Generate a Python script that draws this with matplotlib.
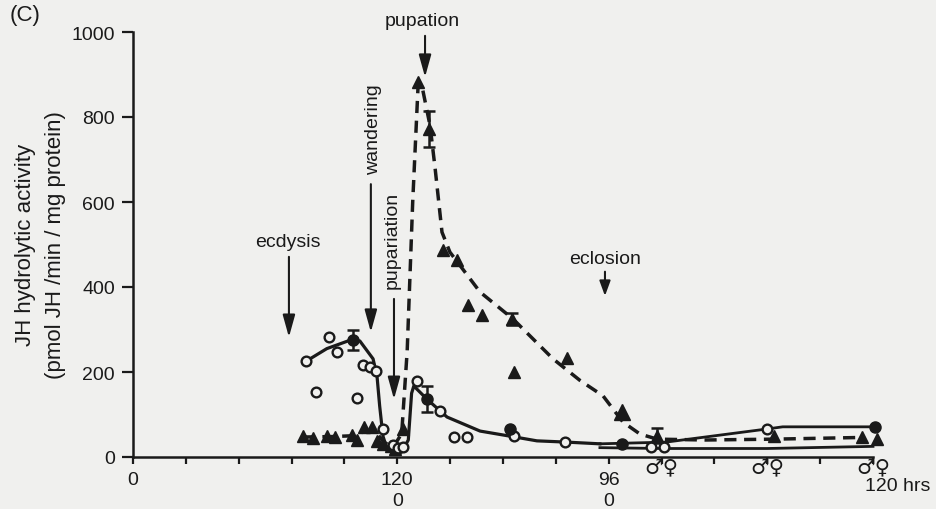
import numpy as np
import matplotlib
matplotlib.use("Agg")
import matplotlib.pyplot as plt

plt.rcParams['font.family'] = ['Liberation Sans', 'DejaVu Sans']

# time axis in hours: larva 0-120, pupa 120-216 (0-96), adult 216-336 (0-120)
# open circles (individual assays)
circ_t = [78.6, 83, 89, 92.6, 101.7, 104.5, 107.6, 110.4, 113.5, 118, 120.5, 122.5,
          129, 139.4, 145.8, 151.7, 173, 196, 235, 241, 288]
circ_y = [226, 153, 282, 247, 139, 216, 211, 202, 66, 28, 22, 24,
          179, 108, 47, 47, 50, 35, 24, 24, 66]

# filled circles (means) with error bars
mean_t = [100, 133.5, 171, 222, 337]
mean_y = [276, 136, 66, 30, 71]
mean_err = [24, 30, 0, 0, 0]

# solid curve through circles
solid_t = [78.6, 80.4, 88, 97.6, 103, 109, 110.8, 112, 113.5, 115, 118, 122, 125, 126.5,
           127.5, 133.5, 142.6, 157.6, 171.2, 183.4, 197, 212]
solid_y = [226, 231, 255, 273, 273, 231, 190, 120, 49, 25, 15, 12, 40, 150,
           167, 136, 94, 61, 49, 38, 35, 31]
adult_hi_t = [212, 242, 288, 295, 337]
adult_hi_y = [31, 35, 66, 71, 71]
adult_lo_t = [212, 240, 288, 336]
adult_lo_y = [22, 20, 20, 25]

# triangles (individual)
tri_t = [77.2, 81.7, 88.1, 91.7, 99.5, 101.7, 105, 108.5, 111, 113.5, 117, 119, 122.6,
         129.5, 140.8, 147, 152, 158.5, 173, 197, 291, 331, 338]
tri_y = [49, 45, 49, 47, 52, 40, 70, 70, 38, 30, 25, 20, 66,
         882, 487, 464, 357, 334, 200, 233, 49, 47, 42]
big_tri_t = [222]
big_tri_y = [105]
# triangle means with error bars
tm_t = [134.5, 172, 238]
tm_y = [772, 325, 50]
tm_err = [42, 15, 18]

# dashed curve through triangles
dash_t = [77, 90, 100, 106, 110, 114, 118, 122, 124.5, 127, 129.5, 131.2, 134.9, 137.2,
          140.3, 143.9, 157.6, 172.5, 190.7, 203, 213.4, 222.5, 230.2, 238, 260, 291, 331]
dash_y = [47, 48, 50, 62, 60, 35, 22, 55, 250, 600, 880, 873, 779, 678,
          529, 482, 388, 325, 231, 180, 144, 82, 54, 42, 40, 42, 46]

ink = '#1a1a1a'
bg = '#f0f0ee'

fig = plt.figure(figsize=(9.36, 5.1), dpi=100, facecolor=bg)
ax = fig.add_axes([133/936, 52/510, 740/936, 425/510])
ax.set_facecolor(bg)

ax.plot(solid_t, solid_y, '-', color=ink, lw=2.3, clip_on=False)
ax.plot(adult_hi_t, adult_hi_y, '-', color=ink, lw=2.0, clip_on=False)
ax.plot(adult_lo_t, adult_lo_y, '-', color=ink, lw=2.0, clip_on=False)
ax.plot(dash_t, dash_y, '--', color=ink, lw=2.5, dashes=(3.5, 2.2), clip_on=False)

ax.plot(tri_t, tri_y, '^', color=ink, ms=9, mec=ink, clip_on=False)
ax.plot(big_tri_t, big_tri_y, '^', color=ink, ms=12, mec=ink, clip_on=False)
ax.errorbar(tm_t, tm_y, yerr=tm_err, fmt='^', color=ink, ms=9, capsize=4,
            elinewidth=1.8, capthick=1.8, clip_on=False)

ax.plot(circ_t, circ_y, 'o', mfc=bg, mec=ink, mew=1.7, ms=7, clip_on=False)
e_t = [t for t, e in zip(mean_t, mean_err) if e > 0]
e_y = [y for y, e in zip(mean_y, mean_err) if e > 0]
e_e = [e for e in mean_err if e > 0]
ax.errorbar(e_t, e_y, yerr=e_e, fmt='none', ecolor=ink, capsize=4,
            elinewidth=1.8, capthick=1.8, clip_on=False)
ax.plot(mean_t, mean_y, 'o', color=ink, ms=8, clip_on=False)

ax.set_xlim(0, 336)
ax.set_ylim(0, 1000)
for s in ['top', 'right']:
    ax.spines[s].set_visible(False)
for s in ['left', 'bottom']:
    ax.spines[s].set_linewidth(1.8)
    ax.spines[s].set_color(ink)

ax.set_yticks([0, 200, 400, 600, 800, 1000])
ax.tick_params(axis='y', length=8, width=1.6, pad=5, labelsize=14, colors=ink)
ax.set_xticks(np.arange(0, 337, 24))
xlabels = ['' for _ in range(15)]
xlabels[0] = '0'
xlabels[5] = '120\n0'
xlabels[9] = '96\n0'
ax.set_xticklabels(xlabels, linespacing=1.35)
ax.tick_params(axis='x', length=5, width=1.6, pad=5, labelsize=14, colors=ink)
ax.text(336 - 3.5, -66, '120 hrs', ha='left', va='center', fontsize=14, color=ink,
        clip_on=False)
for t in [240, 288, 336]:
    ax.text(t, -22, '♂♀', ha='center', va='center', fontsize=15,
            family=['DejaVu Sans'], color=ink, clip_on=False)

fig.text(26/936, 1 - 245/510, 'JH hydrolytic activity', rotation=90, ha='center',
         va='center', fontsize=16, color=ink)
fig.text(56/936, 1 - 245/510, '(pmol JH /min / mg protein)', rotation=90, ha='center',
         va='center', fontsize=16, color=ink)
fig.text(25/936, 1 - 16/510, '(C)', ha='center', va='center', fontsize=16, color=ink)

arrow = dict(arrowstyle='-|>,head_length=0.9,head_width=0.25', lw=1.5, color=ink,
             shrinkA=0, shrinkB=0, mutation_scale=15)
short_arrow = dict(arrowstyle='-|>,head_length=0.6,head_width=0.22', lw=1.5, color=ink,
                   shrinkA=0, shrinkB=0, mutation_scale=15)
# event labels
ax.text(131.2, 1026, 'pupation', ha='center', va='center', fontsize=14, color=ink,
        clip_on=False)
ax.annotate('', xy=(132.6, 894), xytext=(132.6, 991), arrowprops=arrow)
ax.text(109, 772, 'wandering', rotation=90, ha='center', va='center', fontsize=14,
        color=ink)
ax.annotate('', xy=(108, 294), xytext=(108, 642), arrowprops=arrow)
ax.text(117.6, 513, 'pupariation', rotation=90, ha='center', va='center', fontsize=14,
        color=ink)
ax.annotate('', xy=(118.5, 136), xytext=(118.5, 372), arrowprops=arrow)
ax.text(70.4, 506, 'ecdysis', ha='center', va='center', fontsize=14, color=ink)
ax.annotate('', xy=(70.8, 282), xytext=(70.8, 471), arrowprops=arrow)
ax.text(214.3, 466, 'eclosion', ha='center', va='center', fontsize=14, color=ink)
ax.annotate('', xy=(214.3, 379), xytext=(214.3, 436), arrowprops=short_arrow)

fig.savefig('out.png', dpi=100, facecolor=bg)
